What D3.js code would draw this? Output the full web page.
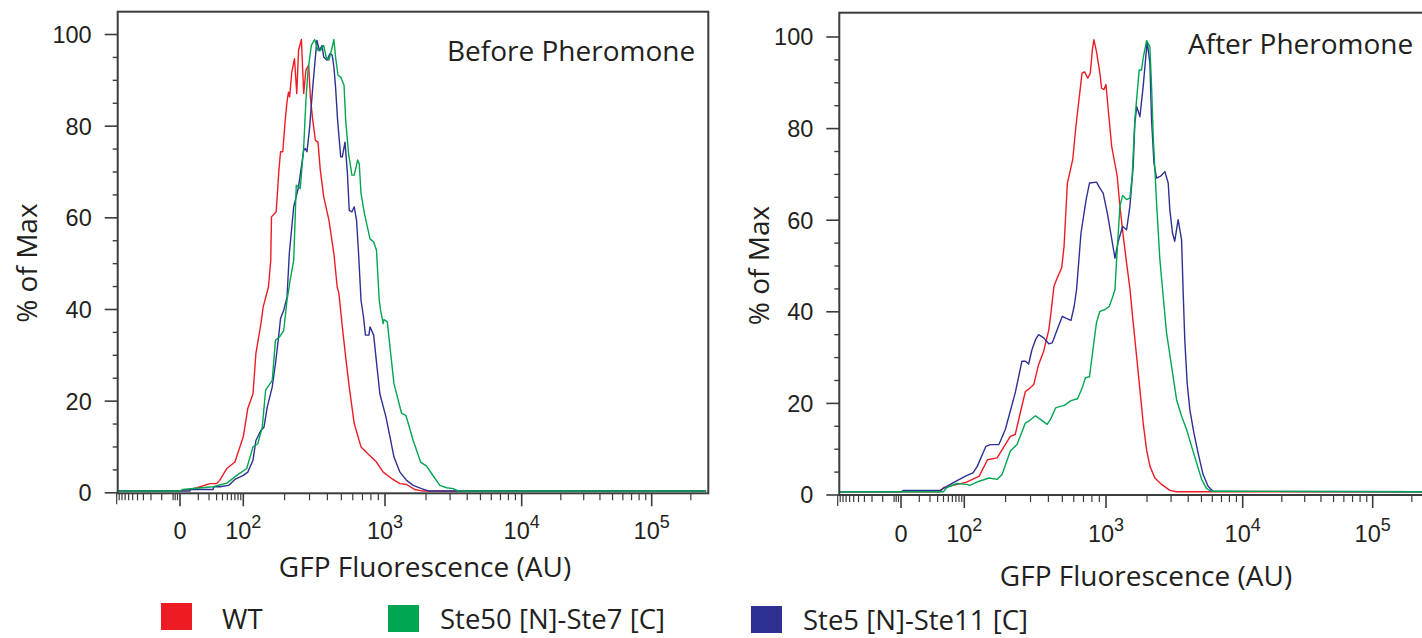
<!DOCTYPE html>
<html>
  <head>
    <meta charset="utf-8">
    <title>GFP histograms</title>
    <script src="https://cdn.jsdelivr.net/npm/d3@7"></script>
    <style>
      body { margin: 0; background: #ffffff; }
      .hum { font-family: "Open Sans", "Noto Sans", sans-serif; fill: #231f20; }
      .num { font-family: "Liberation Sans", Arial, sans-serif; fill: #231f20; }
    </style>
  </head>
  <body>
    <svg width="1422" height="638" id="mainsvg"></svg>
    <script>
        // ---- data: [GFP fluorescence (AU), % of max] ----
        const beforeWT = [[-100,0.3],[0,0.3],[5,0.7],[9,1.0],[21,1.9],[30,1.9],[35,2.6],[49,5.2],[70,6.6],[100,12.1],[108,18.3],[118,21.5],[124,30.3],[135,36.8],[140,40.4],[153,44.8],[159,50.6],[161,60.1],[174,61.2],[182,70.3],[187,74.3],[194,74.3],[202,81.2],[208,85.2],[213,87.3],[217,86.3],[225,91.7],[235,94.6],[244,87],[251,96.4],[263,98.8],[273,87],[283,92.1],[296,93.2],[304,86.3],[316,81.2],[330,76.8],[344,76.4],[357,70.3],[377,64.5],[410,59.4],[444,52.1],[468,44.8],[481,43.4],[508,36.1],[536,29.5],[567,23],[614,15],[684,9.9],[762,8.4],[874,6.6],[972,4.4],[1119,3.0],[1288,1.9],[1441,1.7],[1657,0.6],[1855,0.3],[262144,0.3]];
        const beforeSte50 = [[-100,0.3],[0,0.3],[1,0.6],[25,1.2],[49,2.0],[76,3.7],[106,5.2],[118,9.9],[128,10.6],[138,14.2],[146,22.3],[163,24.4],[172,33.2],[184,33.9],[197,35.3],[208,41.9],[219,46.3],[232,50.6],[242,67],[258,66.3],[273,75.3],[283,85.5],[293,92.1],[309,97.5],[326,98.8],[344,96.4],[357,96.4],[377,97.5],[392,95],[410,94.3],[432,97.1],[444,98.8],[456,95],[474,91],[495,90.6],[522,88.8],[536,81.2],[561,73.9],[592,69.2],[614,69.2],[648,72.5],[665,71.7],[684,65.2],[722,60.8],[789,55.3],[836,54.6],[874,52.8],[913,41.9],[933,39.7],[972,36.8],[984,37.7],[1039,37.2],[1164,23.7],[1325,17.2],[1424,16.8],[1611,11.3],[1825,6.6],[2019,5.7],[2196,4.1],[2525,1.5],[2827,1.0],[3161,0.8],[3434,0.3],[262144,0.3]];
        const beforeSte5 = [[-100,0.3],[4.6,0.3],[5,0.6],[25,0.6],[26,1.2],[35.5,1.2],[53,1.5],[70,2.8],[100,3.7],[108,4.4],[118,7.0],[124,11.3],[135,13.5],[142,14.2],[150,18.6],[163,23],[172,28.1],[180,33.2],[187,37.9],[197,39.7],[208,42.6],[216,52.1],[232,62.3],[251,66.6],[273,74.6],[280,75],[288,74.3],[300,79.3],[316,88.4],[330,95],[338,98.6],[352,96.4],[367,97.5],[377,95],[398,94.3],[416,95.7],[432,95.4],[444,92.8],[456,88.4],[471,81.2],[495,73.2],[508,73.2],[530,76.4],[551,69.6],[567,61.5],[592,61.2],[614,62.3],[637,59.4],[658,52.1],[684,41.9],[711,38.3],[734,34.3],[775,34.3],[789,36.1],[836,34.3],[874,28.4],[922,21.5],[1017,16.4],[1088,12.1],[1164,7.7],[1288,4.4],[1441,2.6],[1611,1.5],[1855,0.8],[2073,0.3],[262144,0.3]];

        const afterWT = [[-100,0.6],[34,0.6],[40,1.5],[104,2.7],[129,4.0],[148,7.6],[174,8.0],[189,9.8],[216,12.7],[234,13.1],[254,17.8],[276,22.5],[291,23],[316,24],[342,28.4],[371,31.3],[403,36],[414,38.9],[437,45.4],[461,47.3],[495,49.5],[514,54.2],[542,68],[590,73.1],[621,80.4],[684,92],[711,92.3],[750,90.9],[780,92],[806,97.1],[826,99.3],[860,96.7],[908,92],[933,88.7],[968,88.4],[1000,89.5],[1039,84],[1101,76],[1209,69.5],[1266,62.9],[1339,56.4],[1417,50.5],[1498,45],[1584,37.5],[1677,30.2],[1774,22.9],[1875,15.6],[1984,9.8],[2099,6.2],[2284,3.6],[2556,2.2],[2937,0.9],[3291,0.6],[262144,0.6]];
        const afterSte50 = [[-100,0.6],[40,0.6],[46.5,1.5],[72.5,2.4],[104,2.2],[110,2.0],[129,2.9],[152,3.6],[174,3.3],[189,4.4],[216,9.5],[241,10.9],[276,15.6],[291,16],[325,17.2],[352,16.4],[392,15.3],[414,16.4],[449,18.9],[487,19.3],[514,19.4],[574,20.5],[637,20.9],[692,23.6],[722,25.5],[770,25.7],[813,31.6],[860,37.5],[908,40],[985,40.4],[1057,41.1],[1101,42.5],[1164,44.7],[1197,51.3],[1266,62.9],[1325,65.3],[1417,64.4],[1498,64.7],[1557,69.5],[1629,81.8],[1752,92.7],[1825,92.7],[1875,95.3],[1984,99.1],[2099,97.8],[2160,89.1],[2220,78.2],[2350,63.6],[2484,51.3],[2599,44.7],[2780,35.3],[3025,28],[3291,20.7],[3580,17.1],[3895,14.2],[4237,10.5],[4610,6.9],[5015,3.3],[5456,1.3],[5935,0.7],[262144,0.6]];
        const afterSte5 = [[-100,0.6],[0,0.6],[1,0.9],[34,0.9],[62.5,2.6],[104,4.1],[116,4.7],[125,6.2],[144,10.5],[156,10.9],[179,10.9],[199,14.2],[234,22.2],[261,29.1],[276,29.1],[291,28.5],[307,31.6],[325,33.8],[342,34.9],[371,34.2],[403,32.9],[425,33.1],[461,36],[500,38.9],[528,38.5],[574,38],[604,41.1],[627,44.7],[673,57.1],[730,64.4],[770,68],[860,68.2],[908,66.9],[956,65.8],[1022,61.5],[1083,57.1],[1164,51.6],[1231,55.3],[1325,58.5],[1417,57.8],[1498,62.9],[1584,71.6],[1629,81.1],[1681,84.7],[1774,82.5],[1875,89.1],[2005,98.9],[2099,94.2],[2160,81.8],[2247,72.4],[2350,69.1],[2515,69.5],[2701,70.5],[2858,68],[2937,62.2],[3072,57.1],[3191,55.3],[3377,60],[3580,55.6],[3672,44.7],[3778,33.8],[3930,24.4],[4115,18.5],[4399,13.5],[4724,9.1],[5136,4.4],[5588,1.8],[6080,0.7],[262144,0.6]];

        const seriesNames = ['WT', 'Ste50 [N]-Ste7 [C]', 'Ste5 [N]-Ste11 [C]'];
        const seriesColors = ['#ed1c24', '#00a651', '#2e3192'];
        const panelTitles = ['Before Pheromone', 'After Pheromone'];

        // tick values
        const xMajorTicks = [0, 100, 1000, 10000, 100000];
        const xMajorExps = ['', '2', '3', '4', '5'];
        const xMinorTicks = [-90,-80,-70,-60,-50,-40,-30,-20,-10,-3,-2,-1,
            10,20,30,40,50,60,70,80,90, 200,300,400,500,600,700,800,900,
            2000,3000,4000,5000,6000,7000,8000,9000,
            20000,30000,40000,50000,60000,70000,80000,90000, 200000];
        const yMajorTicks = [0, 20, 40, 60, 80, 100];
        const yMinorTicks = [5,10,15,25,30,35,45,50,55,65,70,75,85,90,95];

        const svg = d3.select('#mainsvg');

        // panel layout (pixel positions of the biexponential decades, frame box)
        const decadePx = [180, 243.3, 385, 521.7, 651.7];
        const panels = [
            {dx: 0,   frame: {l: 117.7, t: 11.7, r: 708.3, b: 493.3}, y0: 492.3, y100: 34,
             lab: 539, title: 577, titleY: 61, titleX: 447, ylabX: 37,
             series: [beforeWT, beforeSte50, beforeSte5]},
            {dx: 721, frame: {l: 839.3, t: 12.7, r: 1440, b: 495}, y0: 494.5, y100: 36.5,
             lab: 541.5, title: 586, titleY: 54, titleX: 1188, ylabX: 769,
             series: [afterWT, afterSte50, afterSte5]}
        ];

        // symlog (biexponential-like) transform, then piecewise-linear onto the decade positions
        const sym = d3.scaleSymlog().constant(10).domain([-100, 262144]).range([0, 1]);

        panels.forEach((p, pi) => {
            const pix = d3.scaleLinear()
                .domain(xMajorTicks.map(v => sym(v)))
                .range(decadePx.map(v => v + p.dx));
            const x = v => pix(sym(v));
            const y = d3.scaleLinear().domain([0, 100]).range([p.y0, p.y100]);
            const f = p.frame;

            const g = svg.append('g').attr('class', 'panel');

            svg.append('clipPath').attr('id', 'clip' + pi)
                .append('rect')
                .attr('x', f.l).attr('y', f.t)
                .attr('width', f.r - f.l).attr('height', f.b - f.t);

            // histograms (drawn red, blue, green so green lands on top at the baseline)
            const line = d3.line().x(d => x(d[0])).y(d => y(d[1]));
            const order = [0, 2, 1];
            g.append('g').attr('clip-path', `url(#clip${pi})`)
                .selectAll('path')
                .data(order)
                .join('path')
                .attr('d', i => line(p.series[i]))
                .attr('fill', 'none')
                .attr('stroke', i => seriesColors[i])
                .attr('stroke-width', 1.4)
                .attr('stroke-linejoin', 'round');

            // frame
            g.append('rect')
                .attr('x', f.l).attr('y', f.t)
                .attr('width', f.r - f.l).attr('height', f.b - f.t)
                .attr('fill', 'none')
                .attr('stroke', '#3c3c3c')
                .attr('stroke-width', 2);

            // y axis
            const yAxis = d3.axisLeft(y).tickValues(yMajorTicks).tickSize(13).tickPadding(13).tickFormat(d3.format('d'));
            const ya = g.append('g').attr('transform', `translate(${f.l},0)`).call(yAxis);
            ya.select('.domain').remove();
            ya.selectAll('line').attr('stroke', '#3c3c3c').attr('stroke-width', 1.6);
            ya.selectAll('text').attr('class', 'num').attr('font-size', 23.5)
                .attr('dy', '0.36em').attr('font-family', null);
            const yMinor = g.append('g').attr('transform', `translate(${f.l},0)`)
                .call(d3.axisLeft(y).tickValues(yMinorTicks).tickSize(5).tickFormat(''));
            yMinor.select('.domain').remove();
            yMinor.selectAll('line').attr('stroke', '#3c3c3c').attr('stroke-width', 1.4);

            // x axis (manual: composite scale)
            g.append('g').selectAll('line')
                .data(xMajorTicks)
                .join('line')
                .attr('x1', d => x(d)).attr('x2', d => x(d))
                .attr('y1', f.b).attr('y2', f.b + 13)
                .attr('stroke', '#3c3c3c').attr('stroke-width', 1.6);
            g.append('g').selectAll('line')
                .data(xMinorTicks.concat([-100]))
                .join('line')
                .attr('x1', d => x(d)).attr('x2', d => x(d))
                .attr('y1', f.b).attr('y2', d => d === -100 ? f.b + 11 : f.b + 7)
                .attr('stroke', '#3c3c3c').attr('stroke-width', 1.2);

            const xl = g.append('g').selectAll('text')
                .data(xMajorTicks)
                .join('text')
                .attr('class', 'num')
                .attr('x', d => x(d))
                .attr('y', p.lab)
                .attr('text-anchor', 'middle')
                .attr('font-size', 23.5);
            xl.append('tspan').text(d => d === 0 ? '0' : '10');
            xl.append('tspan')
                .attr('font-size', 18)
                .attr('dy', -11)
                .text((d, i) => xMajorExps[i]);

            // axis titles and panel title
            g.append('text').attr('class', 'hum')
                .attr('x', decadePx[2] + p.dx + 40).attr('y', p.title)
                .attr('text-anchor', 'middle').attr('font-size', 28)
                .text('GFP Fluorescence (AU)');
            g.append('text').attr('class', 'hum')
                .attr('transform', `translate(${p.ylabX},${(p.y0 + p.y100) / 2}) rotate(-90)`)
                .attr('text-anchor', 'middle').attr('font-size', 28)
                .text('% of Max');
            g.append('text').attr('class', 'hum')
                .attr('x', p.titleX).attr('y', p.titleY)
                .attr('font-size', 28)
                .text(panelTitles[pi]);
        });

        // legend
        const legendX = [161, 388, 751];
        const legendTextX = [222, 440, 803];
        const legendY = [603, 605, 606];
        const legendBase = [629, 629, 630];
        const lg = svg.append('g').selectAll('g')
            .data(seriesNames)
            .join('g');
        lg.append('rect')
            .attr('x', (d, i) => legendX[i]).attr('y', (d, i) => legendY[i])
            .attr('width', 31).attr('height', 27)
            .attr('fill', (d, i) => seriesColors[i]);
        lg.append('text').attr('class', 'hum')
            .attr('x', (d, i) => legendTextX[i]).attr('y', (d, i) => legendBase[i])
            .attr('font-size', 27.5)
            .text(d => d);
    </script>
  </body>
</html>
